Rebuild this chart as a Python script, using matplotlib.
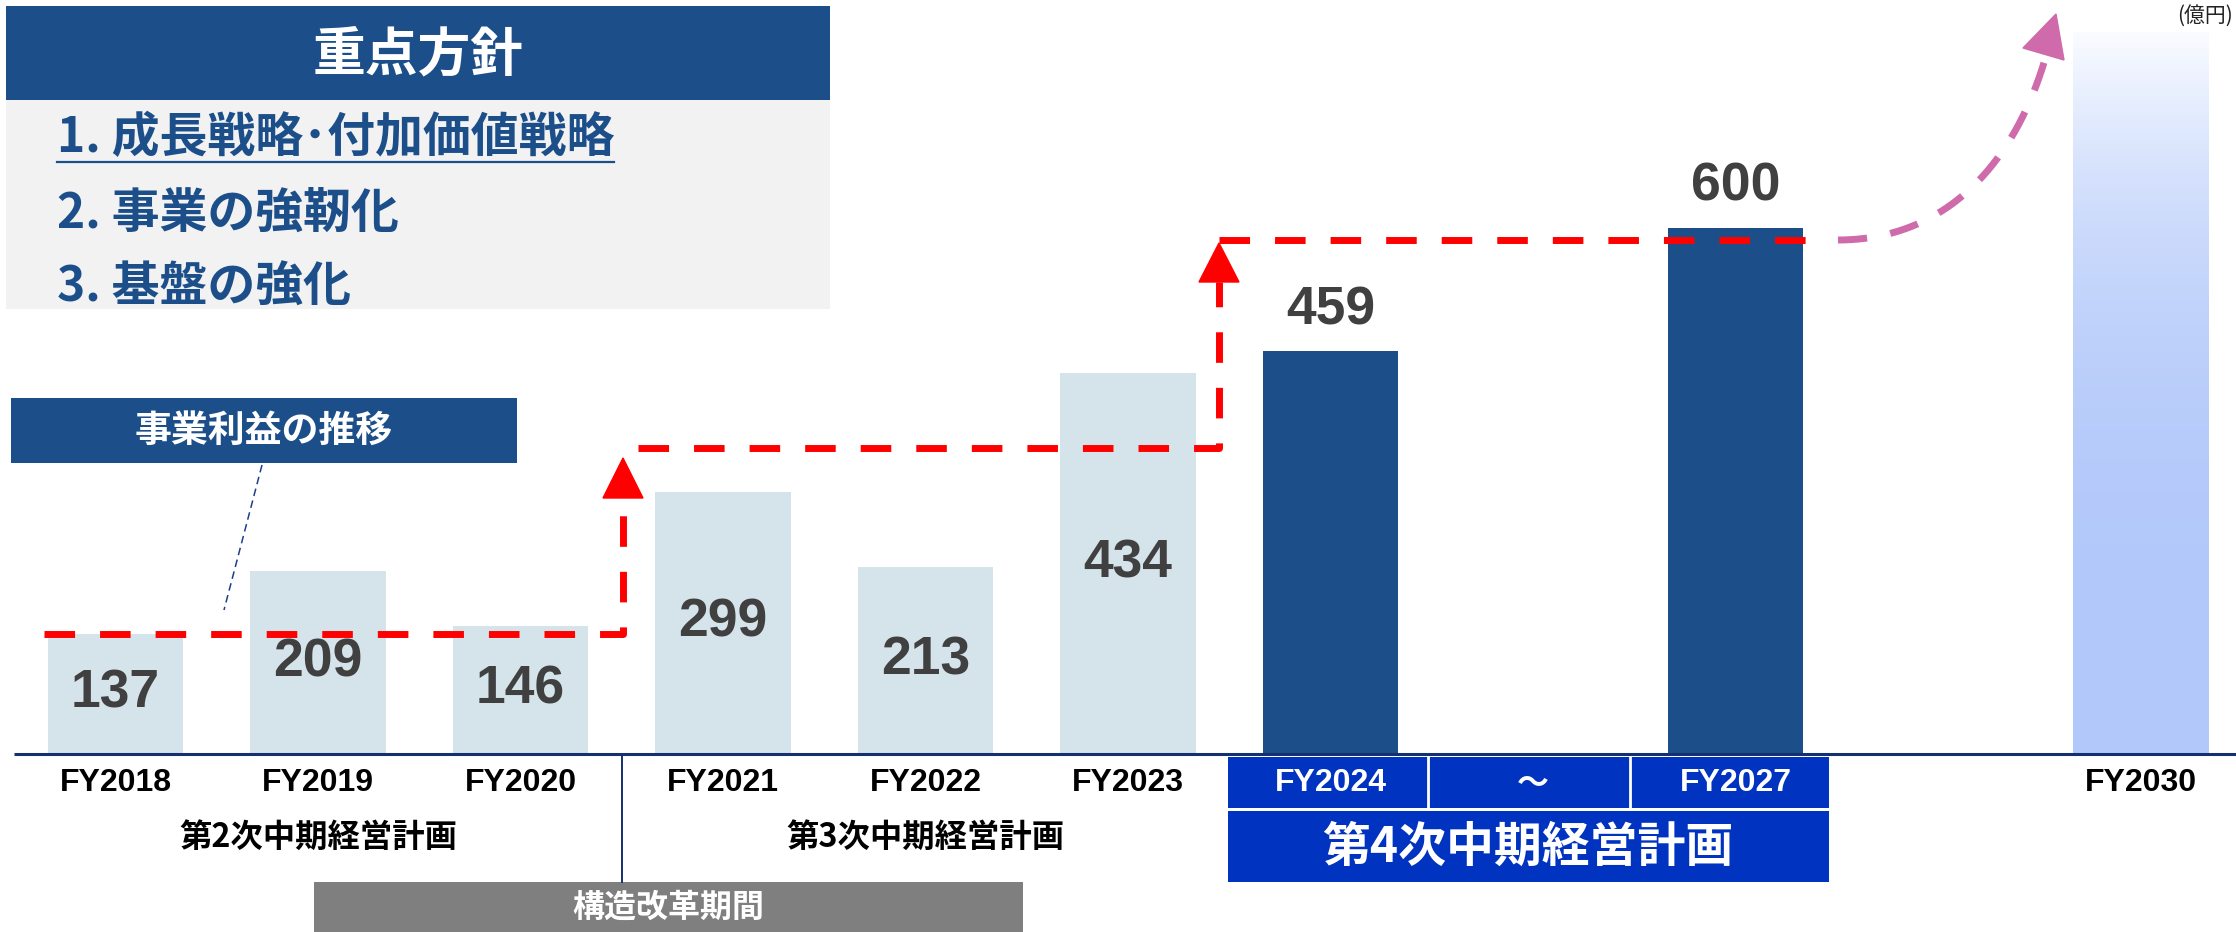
import numpy as np
import matplotlib
matplotlib.use('Agg')
from matplotlib import pyplot as plt
from matplotlib.patches import Rectangle, Polygon

plt.rcParams['font.family'] = ['Liberation Sans', 'Noto Sans CJK JP', 'DejaVu Sans']

# --- data ---
years = ['FY2018', 'FY2019', 'FY2020', 'FY2021', 'FY2022', 'FY2023', 'FY2024', 'FY2027']
profit = [137, 209, 146, 299, 213, 434, 459, 600]
slots = [0, 1, 2, 3, 4, 5, 6, 8]
target_year = 'FY2030'
target_slot = 10
target_height = 823          # unlabeled target bar (gradient)
step_levels = [137, 349, 586]  # red stair arrows

plan2 = '第2次中期経営計画'
plan3 = '第3次中期経営計画'
plan4 = '第4次中期経営計画'
reform = '構造改革期間'
policy_title = '重点方針'
policy_items = ['1. 成長戦略･付加価値戦略', '2. 事業の強靭化', '3. 基盤の強化']
chart_title = '事業利益の推移'
unit = '(億円)'

# --- layout (picture pixels -> data) ---
W, H = 2236, 932
BASE = 754
PX_PER_UNIT = 0.877
SLOT0, SLOT_W = 115.5, 202.5
JP = ['Noto Sans CJK JP', 'DejaVu Sans']
NAVY = '#1c4f8a'


def dx(px):
    return (px - SLOT0) / SLOT_W


def dy(py):
    return (BASE - py) / PX_PER_UNIT


def box(ax, x0, y0, x1, y1, color, z=1):
    ax.add_patch(Rectangle((dx(x0), dy(y1)), dx(x1) - dx(x0), dy(y0) - dy(y1),
                           facecolor=color, edgecolor='none', zorder=z))


fig = plt.figure(figsize=(W / 100, H / 100), dpi=100)
ax = fig.add_axes([0, 0, 1, 1])
ax.set_xlim(dx(0), dx(W))
ax.set_ylim(dy(H), dy(0))
ax.axis('off')

bw = 0.667
ax.bar(slots[:6], profit[:6], width=bw, color='#d5e3ea', zorder=2)
ax.bar(slots[6:], profit[6:], width=bw, color=NAVY, zorder=2)

# gradient target bar
t = np.linspace(0, 1, 300)[:, None]
top = np.array([250, 252, 255]) / 255
bot = np.array([178, 200, 250]) / 255
f = t ** 3.2
grad = bot + (top - bot) * f[..., None]
grad = np.repeat(grad, 2, axis=1)
ax.imshow(grad, extent=[target_slot - bw / 2, target_slot + bw / 2, 0, target_height],
          origin='lower', aspect='auto', zorder=2, interpolation='bilinear')

for s, v in zip(slots[:6], profit[:6]):
    ax.text(s, v / 2, str(v), ha='center', va='center', fontsize=38.5,
            fontweight='bold', color='#404040', zorder=5)
for s, v in zip(slots[6:], profit[6:]):
    ax.text(s, v + 47, str(v), ha='center', va='center', fontsize=38.5,
            fontweight='bold', color='#404040', zorder=5)

# red stair arrows
red = '#ff0000'
dash = (0, (4.4, 3.6))
ax.plot([dx(44), dx(623), dx(623)], [step_levels[0], step_levels[0], dy(498)],
        color=red, lw=5, ls=dash, zorder=4)
ax.add_patch(Polygon([(dx(623), dy(458)), (dx(603), dy(498)), (dx(643), dy(498))],
                     color=red, zorder=4))
ax.plot([dx(638), dx(1219), dx(1219)], [step_levels[1], step_levels[1], dy(282)],
        color=red, lw=5, ls=dash, zorder=4)
ax.add_patch(Polygon([(dx(1219), dy(243)), (dx(1199), dy(282)), (dx(1239), dy(282))],
                     color=red, zorder=4))
ax.plot([dx(1219), dx(1809)], [step_levels[2], step_levels[2]],
        color=red, lw=5, ls=dash, zorder=4)

# pink curved arrow toward FY2030
P = np.array([[1838, 240], [1955, 240], [2030, 150], [2056, 14]], float)
tt = np.linspace(0, 0.93, 200)[:, None]
curve = ((1 - tt) ** 3 * P[0] + 3 * (1 - tt) ** 2 * tt * P[1]
         + 3 * (1 - tt) * tt ** 2 * P[2] + tt ** 3 * P[3])
pink = '#cf6aab'
ax.plot(dx(curve[:, 0]), dy(curve[:, 1]), color=pink, lw=5, ls=(0, (4.2, 3.4)), zorder=4)
ax.add_patch(Polygon([(dx(2056), dy(14)), (dx(2023), dy(48)), (dx(2064), dy(60))],
                     color=pink, zorder=4))

# axis line and separators
axis_c = '#14306e'
ax.plot([dx(14), dx(W)], [0, 0], color=axis_c, lw=2.2, solid_capstyle='butt', zorder=3)
ax.plot([2.5, 2.5], [0, dy(882)], color=axis_c, lw=1.4, zorder=3)

for s, y in zip(slots[:6], years[:6]):
    ax.text(s, dy(783), y, ha='center', va='center', fontsize=23, fontweight='bold', color='black')
ax.text(target_slot, dy(783), target_year, ha='center', va='center', fontsize=23,
        fontweight='bold', color='black')

ax.text(1, dy(837), plan2, ha='center', va='center', fontsize=23.3, fontweight='bold',
        family=JP, color='black')
ax.text(4, dy(837), plan3, ha='center', va='center', fontsize=23.3, fontweight='bold',
        family=JP, color='black')

box(ax, 314, 882, 1023, 932, '#7f7f7f')
ax.text(dx(668), dy(908), reform, ha='center', va='center', fontsize=23, fontweight='bold',
        family=JP, color='white')

# 4th plan boxes
blue = '#0033bf'
box(ax, 1228, 757, 1829, 808, blue)
box(ax, 1228, 811, 1829, 882, blue)
for xp in (1428, 1630):
    ax.plot([dx(xp), dx(xp)], [dy(757), dy(808)], color='white', lw=2, zorder=2)
ax.text(6, dy(783), years[6], ha='center', va='center', fontsize=23, fontweight='bold', color='white')
ax.text(7, dy(783), '～', ha='center', va='center', fontsize=23, fontweight='bold',
        family=JP, color='white')
ax.text(8, dy(783), years[7], ha='center', va='center', fontsize=23, fontweight='bold', color='white')
ax.text(dx(1528), dy(847), plan4, ha='center', va='center', fontsize=34.5, fontweight='bold',
        family=JP, color='white')

# top-left policy panel
box(ax, 6, 6, 830, 100, NAVY)
box(ax, 6, 100, 830, 309, '#f2f2f2')
ax.text(dx(418), dy(55), policy_title, ha='center', va='center', fontsize=38,
        fontweight='bold', family=JP, color='white')
item_txt = []
for yp, it in zip((138, 213, 287), policy_items):
    item_txt.append(ax.text(dx(57), dy(yp), it, ha='left', va='center', fontsize=34.5,
                            fontweight='bold', family=JP, color=NAVY))

box(ax, 11, 398, 517, 463, NAVY)
ax.text(dx(264), dy(431), chart_title, ha='center', va='center', fontsize=26.6,
        fontweight='bold', family=JP, color='white')
ax.plot([dx(262), dx(224)], [dy(465), dy(610)], color='#1c3f8a', lw=1.1, ls=(0, (5, 3)))

ax.text(dx(2233), dy(16), unit, ha='right', va='center', fontsize=15, family=JP, color='#222222')

# underline for first item
fig.canvas.draw()
bb = item_txt[0].get_window_extent()
x0, _ = ax.transData.inverted().transform((bb.x0, 0))
x1, _ = ax.transData.inverted().transform((bb.x1, 0))
ax.plot([x0, x1], [dy(162), dy(162)], color=NAVY, lw=1.6)

fig.savefig('out.png', dpi=100)
